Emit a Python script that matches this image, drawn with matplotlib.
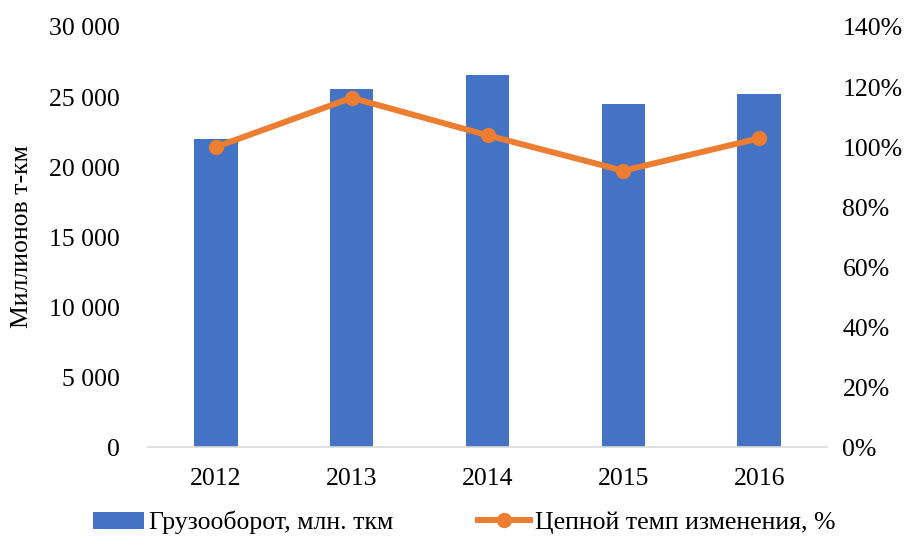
import matplotlib
matplotlib.use("Agg")
import matplotlib.pyplot as plt
from matplotlib.ticker import FuncFormatter, MultipleLocator

years = ["2012", "2013", "2014", "2015", "2016"]
freight = [22000, 25600, 26600, 24500, 25200]
chain_rate = [100.0, 116.4, 103.9, 92.1, 102.9]

plt.rcParams['font.family'] = ['Liberation Serif', 'DejaVu Serif']

fig = plt.figure(figsize=(9.19, 5.51), dpi=100)
ax = fig.add_axes([0.161, 0.1887, 0.739, 0.7623])
ax2 = ax.twinx()

x = list(range(len(years)))
bars = ax.bar(x, freight, width=0.32, color="#4472C4", label="Грузооборот, млн. ткм", zorder=2)
line, = ax2.plot(x, chain_rate, color="#ED7D31", lw=4.3, marker="o", markersize=10,
                 label="Цепной темп изменения, %", zorder=3)

ax.set_xlim(-0.5, len(years) - 0.5)
ax.set_ylim(0, 30000)
ax.yaxis.set_major_locator(MultipleLocator(5000))
ax.yaxis.set_major_formatter(FuncFormatter(lambda v, p: f"{int(v):,}".replace(",", " ")))
ax2.set_ylim(0, 140)
ax2.yaxis.set_major_locator(MultipleLocator(20))
ax2.yaxis.set_major_formatter(FuncFormatter(lambda v, p: f"{int(round(v))}%"))

ax.set_xticks(x)
ax.set_xticklabels(years)

fs = 18.5
for a in (ax, ax2):
    for s in a.spines.values():
        s.set_visible(False)
    a.tick_params(length=0, labelsize=fs)
ax.spines['bottom'].set_visible(True)
ax.spines['bottom'].set_color("#D9D9D9")
ax.spines['bottom'].set_linewidth(1.2)
ax.tick_params(axis='y', pad=20)
ax.tick_params(axis='x', pad=15)
ax2.tick_params(axis='y', pad=11)

ax.set_ylabel("Миллионов т-км", fontsize=fs, labelpad=12)

fig.legend([bars, line], ["Грузооборот, млн. ткм", "Цепной темп изменения, %"],
           loc="lower center", bbox_to_anchor=(0.505, -0.012), ncol=2, frameon=False,
           fontsize=fs, handlelength=2.0, columnspacing=3.3, handletextpad=0.2)

fig.savefig("out.png", dpi=100)
